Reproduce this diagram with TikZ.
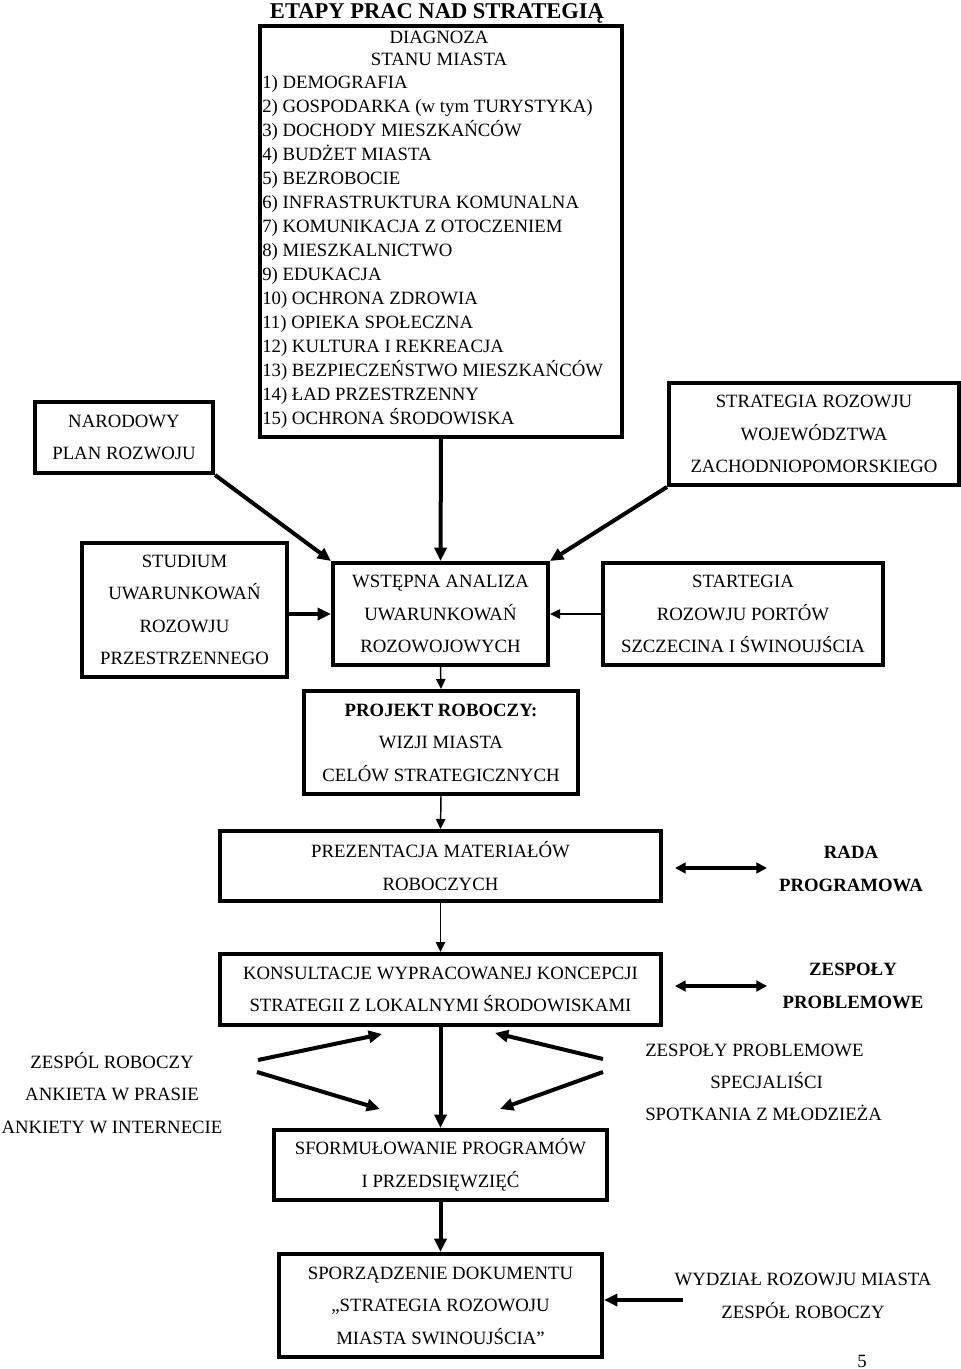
\documentclass[tikz,border=0pt]{standalone}
\usepackage{fontspec}
\setmainfont{Liberation Serif}
\usetikzlibrary{arrows.meta,calc}
\newdimen\pxu \pxu=0.75pt
\newcommand{\fsn}{\fontsize{14.07pt}{24.4pt}\selectfont}
\newcommand{\fsl}{\fontsize{14.07pt}{17.95pt}\selectfont}
\begin{document}
\begin{tikzpicture}[x=0.75pt,y=-0.75pt,
  box/.style={draw, line width=3pt, inner sep=0pt, align=center, anchor=north west, font=\fsn},
  sz/.style 2 args={minimum width=#1\pxu, minimum height=#2\pxu},
  lbl/.style={inner sep=0pt, align=center, font=\fsn},
  thickarr/.style={line width=3pt, -{Triangle[length=10pt,width=9pt]}},
  thinarr/.style={line width=1.1pt, -{Triangle[length=7.5pt,width=7pt]}},
  dblarr/.style={line width=2.5pt, {Triangle[length=8pt,width=8pt]}-{Triangle[length=8pt,width=8pt]}}
]
\useasboundingbox (0,0) rectangle (960,1369);

% title
\node[inner sep=0pt, anchor=base, font=\fontsize{16.9pt}{20pt}\selectfont\bfseries] (title) at (437,18.5) {ETAPY PRAC NAD STRATEGIĄ};

% diagnosis box
\node[box, sz={362}{411}] (diag) at (258,24) {};
\node[inner sep=0pt, anchor=base, font=\fsl] (dh1) at (439,44) {DIAGNOZA};
\node[inner sep=0pt, anchor=base, font=\fsl] (dh2) at (439,66) {STANU MIASTA};
\foreach \t [count=\i] in {1) DEMOGRAFIA, 2) GOSPODARKA (w tym TURYSTYKA), 3) DOCHODY MIESZKAŃCÓW, 4) BUDŻET MIASTA, 5) BEZROBOCIE, 6) INFRASTRUKTURA KOMUNALNA, 7) KOMUNIKACJA Z OTOCZENIEM, 8) MIESZKALNICTWO, 9) EDUKACJA, 10) OCHRONA ZDROWIA, 11) OPIEKA SPOŁECZNA, 12) KULTURA I REKREACJA, 13) BEZPIECZEŃSTWO MIESZKAŃCÓW, 14) ŁAD PRZESTRZENNY, 15) OCHRONA ŚRODOWISKA}
  \node[inner sep=0pt, anchor=base west, font=\fsl] (item\i) at (262,{89+(\i-1)*23.93}) {\t};

% other boxes
\node[box, sz={178}{71}] (nar) at (33,400) {NARODOWY\\PLAN ROZWOJU};
\node[box, sz={290}{102}] (strat) at (667,381) {STRATEGIA ROZOWJU\\WOJEWÓDZTWA\\ZACHODNIOPOMORSKIEGO};
\node[box, sz={205}{134}] (stud) at (80,541) {STUDIUM\\UWARUNKOWAŃ\\ROZOWJU\\PRZESTRZENNEGO};
\node[box, sz={215}{102}] (wst) at (331,561) {WSTĘPNA ANALIZA\\UWARUNKOWAŃ\\ROZOWOJOWYCH};
\node[box, sz={280}{102}] (start) at (601,561) {STARTEGIA\\ROZOWJU PORTÓW\\SZCZECINA I ŚWINOUJŚCIA};
\node[box, sz={274}{103}] (proj) at (302,689) {\textbf{PROJEKT ROBOCZY:}\\WIZJI MIASTA\\CELÓW STRATEGICZNYCH};
\node[box, sz={441}{70}] (prez) at (218,829) {PREZENTACJA MATERIAŁÓW\\ROBOCZYCH};
\node[box, sz={441}{71}] (kons) at (218,952) {KONSULTACJE WYPRACOWANEJ KONCEPCJI\\STRATEGII Z LOKALNYMI ŚRODOWISKAMI};
\node[box, sz={333}{70}] (sform) at (272,1128) {SFORMUŁOWANIE PROGRAMÓW\\I PRZEDSIĘWZIĘĆ};
\node[box, sz={323}{103}] (sporz) at (277,1252) {SPORZĄDZENIE DOKUMENTU\\„STRATEGIA ROZOWOJU\\MIASTA SWINOUJŚCIA”};

% free labels
\node[lbl, font=\fsn\bfseries] (rada) at (851,869) {RADA\\PROGRAMOWA};
\node[lbl, font=\fsn\bfseries] (zesp) at (853,986) {ZESPOŁY\\PROBLEMOWE};
\node[lbl] (left) at (112,1093) {ZESPÓL ROBOCZY\\ANKIETA W PRASIE\\ANKIETY W INTERNECIE};
\node[inner sep=0pt, anchor=base west, font=\fsn] (rt1) at (645,1056) {ZESPOŁY PROBLEMOWE};
\node[inner sep=0pt, anchor=base west, font=\fsn] (rt2) at (710,1088) {SPECJALIŚCI};
\node[inner sep=0pt, anchor=base west, font=\fsn] (rt3) at (645,1120) {SPOTKANIA Z MŁODZIEŻA};
\node[lbl] (wydz) at (803,1296) {WYDZIAŁ ROZOWJU MIASTA\\ZESPÓŁ ROBOCZY};
\node[inner sep=0pt, anchor=base, font=\fsn] (page) at (862,1367) {5};

% coordinates for free ends
\coordinate (d1a) at (675,868);
\coordinate (d1b) at (767,868);
\coordinate (d2a) at (675,986);
\coordinate (d2b) at (767,986);
\coordinate (la1) at (258,1060);
\coordinate (la2) at (382,1034);
\coordinate (lb1) at (257,1072);
\coordinate (lb2) at (380,1109);
\coordinate (ra1) at (603,1059);
\coordinate (ra2) at (495,1033);
\coordinate (rb1) at (603,1072);
\coordinate (rb2) at (500,1109);
\coordinate (w1) at (683,1300);

% connectors
\draw[thickarr] (nar.south east) -- (wst.north west);
\draw[thickarr] (diag.south) -- (wst.north);
\draw[thickarr] (strat.south west) -- (wst.north east);
\draw[thickarr] (wst.west -| stud.east) -- (wst.west);
\draw[thinarr] (start.west) -- (wst.east);
\draw[thinarr] (wst.south) -- (proj.north);
\draw[thinarr] (proj.south) -- (prez.north);
\draw[thinarr] (prez.south) -- (kons.north);
\draw[thickarr] (kons.south) -- (sform.north);
\draw[thickarr] (sform.south) -- (sporz.north);
\draw[dblarr] (d1a) -- (d1b);
\draw[dblarr] (d2a) -- (d2b);
\draw[thickarr] (la1) -- (la2);
\draw[thickarr] (lb1) -- (lb2);
\draw[thickarr] (ra1) -- (ra2);
\draw[thickarr] (rb1) -- (rb2);
\draw[thickarr] (w1) -- (w1 -| sporz.east);
\end{tikzpicture}
\end{document}
